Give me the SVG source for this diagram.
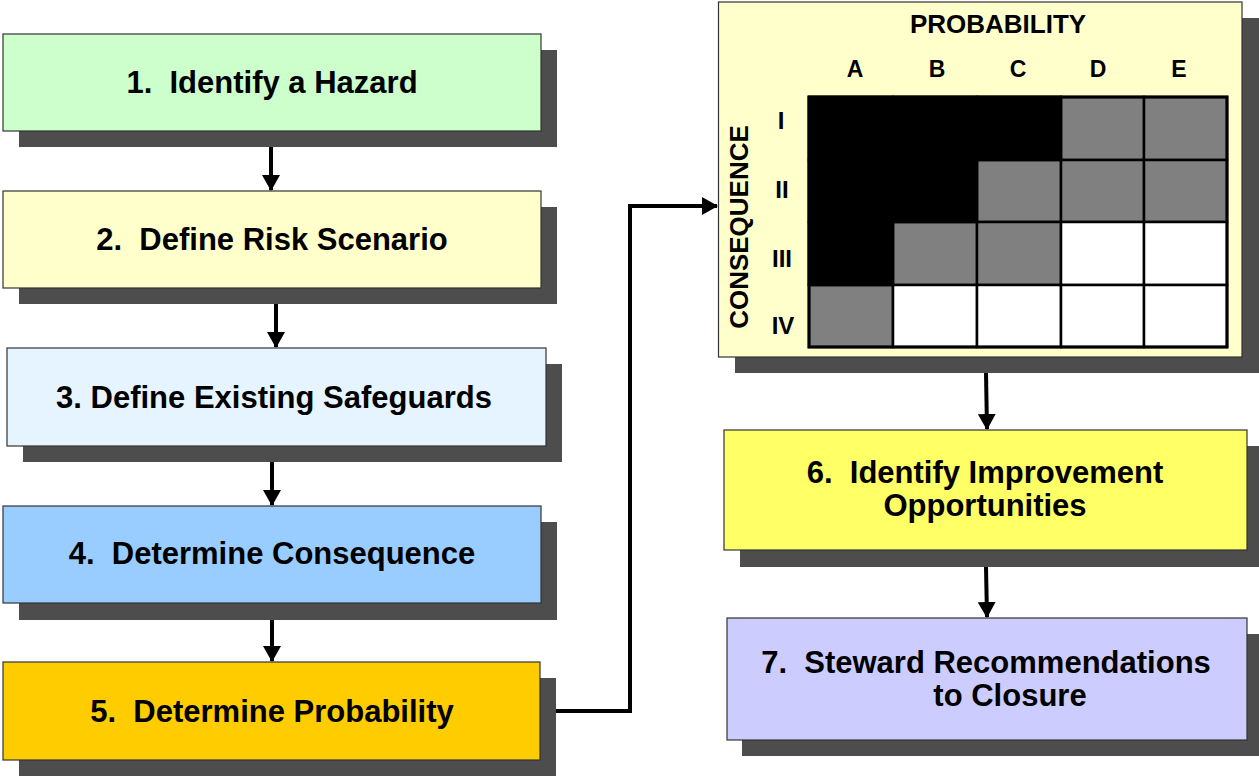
<svg xmlns="http://www.w3.org/2000/svg" width="1259" height="776" viewBox="0 0 1259 776">
  <style>
    .shadow { fill: #4d4d4d; }
    .box { stroke: #333333; stroke-width: 1.2; }
    .label { font-family: "Liberation Sans", Arial, sans-serif; font-weight: bold; font-size: 31px; fill: #000000; text-anchor: middle; white-space: pre; }
    .axis { font-family: "Liberation Sans", Arial, sans-serif; font-weight: bold; fill: #000000; text-anchor: middle; }
    .wire { fill: none; stroke: #000000; stroke-width: 4; }
    .cell { stroke: #000000; stroke-width: 2.5; }
  </style>
  <defs>
    <marker id="head" viewBox="0 0 16 18" refX="15" refY="9" markerWidth="16" markerHeight="18" markerUnits="userSpaceOnUse" orient="auto">
      <path d="M0,0 L16,9 L0,18 Z" fill="#000000"/>
    </marker>
  </defs>

  <rect width="1259" height="776" fill="#ffffff"/>

  <!-- Step 1 -->
  <g id="step1">
    <rect class="shadow" x="19" y="50" width="538" height="97"/>
    <rect class="box" x="3" y="34" width="538" height="97" fill="#ccffcc"/>
    <text class="label" x="272" y="93" xml:space="preserve">1.  Identify a Hazard</text>
  </g>

  <!-- Step 2 -->
  <g id="step2">
    <rect class="shadow" x="19" y="207" width="538" height="97"/>
    <rect class="box" x="3" y="191" width="538" height="97" fill="#ffffcc"/>
    <text class="label" x="272" y="250" xml:space="preserve">2.  Define Risk Scenario</text>
  </g>

  <!-- Step 3 -->
  <g id="step3">
    <rect class="shadow" x="23" y="364" width="539" height="98"/>
    <rect class="box" x="7" y="348" width="539" height="98" fill="#e6f4ff" stroke="#666666"/>
    <text class="label" x="274" y="408">3. Define Existing Safeguards</text>
  </g>

  <!-- Step 4 -->
  <g id="step4">
    <rect class="shadow" x="19" y="522" width="538" height="98"/>
    <rect class="box" x="3" y="506" width="538" height="97" fill="#99ccff"/>
    <text class="label" x="272" y="564" xml:space="preserve">4.  Determine Consequence</text>
  </g>

  <!-- Step 5 -->
  <g id="step5">
    <rect class="shadow" x="19" y="678" width="537" height="98"/>
    <rect class="box" x="3" y="662" width="537" height="98" fill="#ffcc00"/>
    <text class="label" x="272" y="722" xml:space="preserve">5.  Determine Probability</text>
  </g>

  <!-- Risk matrix -->
  <g id="matrix">
    <rect class="shadow" x="735" y="18" width="524" height="355"/>
    <rect class="box" x="718.5" y="2" width="523.5" height="355" fill="#ffffcc"/>
    <text class="axis" x="998" y="33" font-size="26">PROBABILITY</text>
    <g font-size="23">
      <text class="axis" x="855" y="77">A</text>
      <text class="axis" x="937" y="77">B</text>
      <text class="axis" x="1018" y="77">C</text>
      <text class="axis" x="1098" y="77">D</text>
      <text class="axis" x="1179" y="77">E</text>
    </g>
    <g font-size="24">
      <text class="axis" x="781" y="129">I</text>
      <text class="axis" x="782" y="198">II</text>
      <text class="axis" x="782" y="267">III</text>
      <text class="axis" x="783" y="334">IV</text>
    </g>
    <text class="axis" font-size="26" transform="translate(748 227) rotate(-90)">CONSEQUENCE</text>
    <!-- row I -->
    <rect class="cell" x="809" y="97" width="84" height="63" fill="#000000"/>
    <rect class="cell" x="893" y="97" width="84" height="63" fill="#000000"/>
    <rect class="cell" x="977" y="97" width="84" height="63" fill="#000000"/>
    <rect class="cell" x="1061" y="97" width="83" height="63" fill="#808080"/>
    <rect class="cell" x="1144" y="97" width="83" height="63" fill="#808080"/>
    <!-- row II -->
    <rect class="cell" x="809" y="160" width="84" height="62" fill="#000000"/>
    <rect class="cell" x="893" y="160" width="84" height="62" fill="#000000"/>
    <rect class="cell" x="977" y="160" width="84" height="62" fill="#808080"/>
    <rect class="cell" x="1061" y="160" width="83" height="62" fill="#808080"/>
    <rect class="cell" x="1144" y="160" width="83" height="62" fill="#808080"/>
    <!-- row III -->
    <rect class="cell" x="809" y="222" width="84" height="63" fill="#000000"/>
    <rect class="cell" x="893" y="222" width="84" height="63" fill="#808080"/>
    <rect class="cell" x="977" y="222" width="84" height="63" fill="#808080"/>
    <rect class="cell" x="1061" y="222" width="83" height="63" fill="#ffffff"/>
    <rect class="cell" x="1144" y="222" width="83" height="63" fill="#ffffff"/>
    <!-- row IV -->
    <rect class="cell" x="809" y="285" width="84" height="62" fill="#808080"/>
    <rect class="cell" x="893" y="285" width="84" height="62" fill="#ffffff"/>
    <rect class="cell" x="977" y="285" width="84" height="62" fill="#ffffff"/>
    <rect class="cell" x="1061" y="285" width="83" height="62" fill="#ffffff"/>
    <rect class="cell" x="1144" y="285" width="83" height="62" fill="#ffffff"/>
    <!-- solid black zone drawn without inner lines -->
    <path d="M809,97 H1061 V160 H977 V222 H893 V285 H809 Z" fill="#000000" stroke="#000000" stroke-width="2.5"/>
    <rect x="809" y="97" width="418" height="250" fill="none" stroke="#000000" stroke-width="3"/>
  </g>

  <!-- Step 6 -->
  <g id="step6">
    <rect class="shadow" x="740" y="446" width="519" height="121"/>
    <rect class="box" x="724" y="430" width="523" height="120" fill="#ffff66"/>
    <text class="label" x="985" y="483" xml:space="preserve">6.  Identify Improvement</text>
    <text class="label" x="985" y="516">Opportunities</text>
  </g>

  <!-- Step 7 -->
  <g id="step7">
    <rect class="shadow" x="742" y="634" width="517" height="122"/>
    <rect class="box" x="727" y="618" width="520" height="122" fill="#ccccff"/>
    <text class="label" x="986" y="673" xml:space="preserve">7.  Steward Recommendations</text>
    <text class="label" x="1010" y="706">to Closure</text>
  </g>

  <!-- Connectors -->
  <g id="connectors">
    <line class="wire" x1="271" y1="147" x2="271" y2="190" marker-end="url(#head)"/>
    <line class="wire" x1="276" y1="304" x2="276" y2="347" marker-end="url(#head)"/>
    <line class="wire" x1="272" y1="462" x2="272" y2="505" marker-end="url(#head)"/>
    <line class="wire" x1="272" y1="620" x2="272" y2="661" marker-end="url(#head)"/>
    <polyline class="wire" points="556,711 630,711 630,206 717,206" marker-end="url(#head)"/>
    <line class="wire" x1="986" y1="373" x2="987" y2="429" marker-end="url(#head)"/>
    <line class="wire" x1="986" y1="567" x2="987" y2="617" marker-end="url(#head)"/>
  </g>
</svg>
